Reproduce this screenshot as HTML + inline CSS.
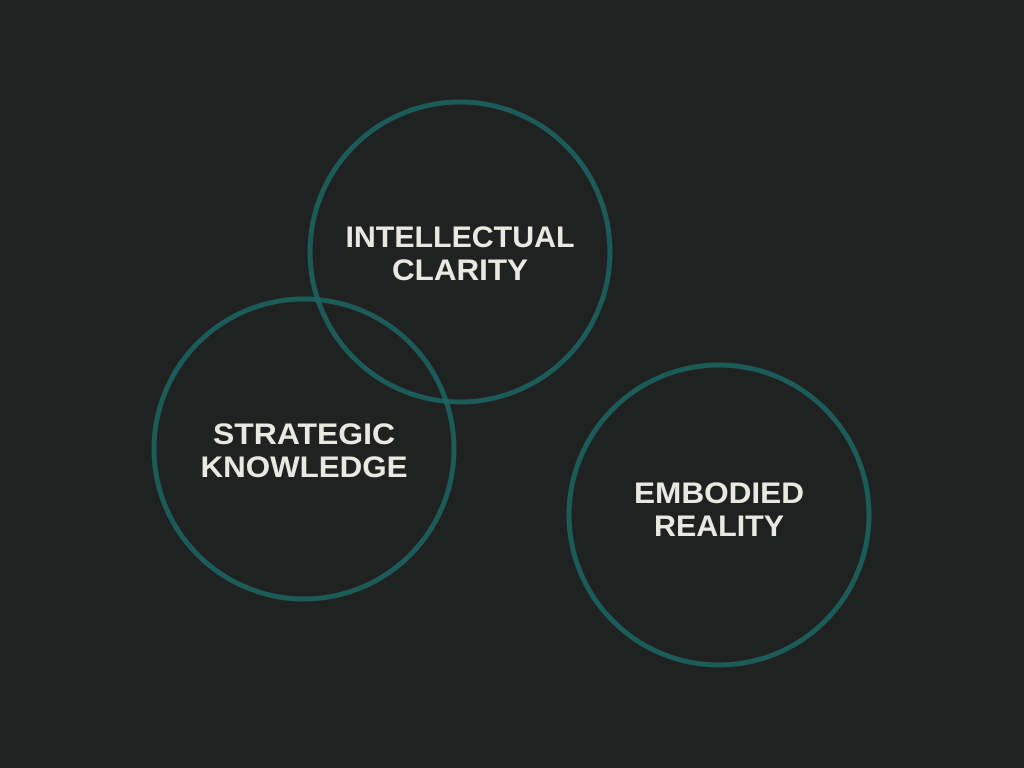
<!DOCTYPE html>
<html><head><style>html,body{margin:0;padding:0;background:#202121;}</style></head>
<body>
<svg width="1024" height="768" xmlns="http://www.w3.org/2000/svg" style="display:block">
<rect width="1024" height="768" fill="#202121"/>
<g fill="none" stroke="#1b6662" stroke-width="5" stroke-opacity="0.85">
<circle cx="460" cy="252" r="150"/>
<circle cx="304" cy="449" r="150"/>
<circle cx="719" cy="515" r="150"/>
</g>
<g fill="#e9e9e2" font-family="Liberation Sans, sans-serif" font-weight="bold" font-size="30" text-anchor="middle">
<text x="460" y="247" textLength="229" lengthAdjust="spacingAndGlyphs">INTELLECTUAL</text>
<text x="460" y="280" textLength="136" lengthAdjust="spacingAndGlyphs">CLARITY</text>
<text x="304" y="444" textLength="182" lengthAdjust="spacingAndGlyphs">STRATEGIC</text>
<text x="304" y="477" textLength="207" lengthAdjust="spacingAndGlyphs">KNOWLEDGE</text>
<text x="719" y="503" textLength="170" lengthAdjust="spacingAndGlyphs">EMBODIED</text>
<text x="719" y="536" textLength="130" lengthAdjust="spacingAndGlyphs">REALITY</text>
</g>
</svg>
</body></html>
